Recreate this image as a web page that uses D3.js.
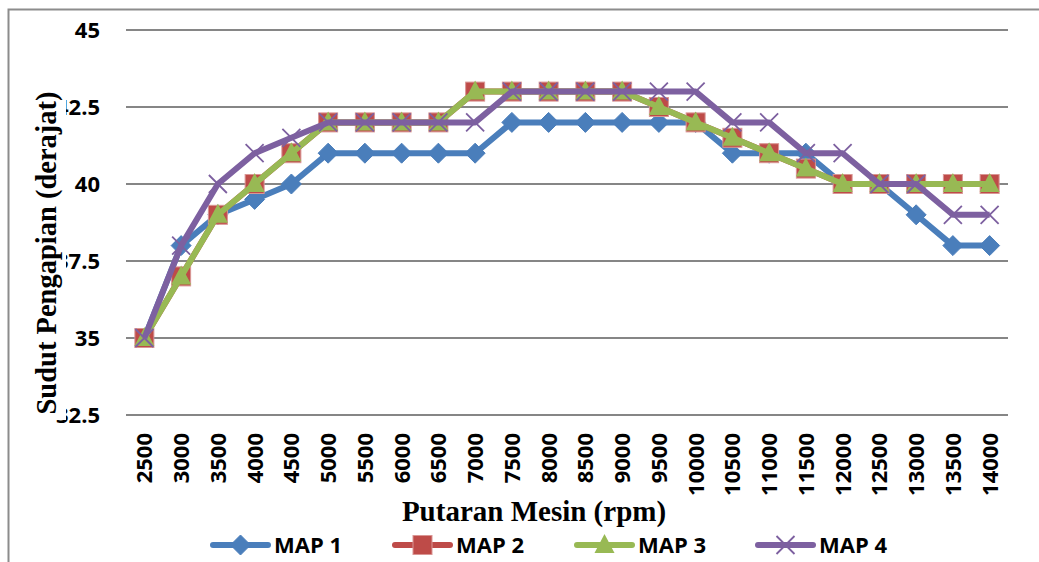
<!DOCTYPE html>
<html>
<head>
<meta charset="utf-8">
<script src="https://cdn.jsdelivr.net/npm/d3@7"></script>
<style>
  body { margin: 0; background: #fff; }
  svg { display: block; }
</style>
</head>
<body>
<div id="chart"></div>
<script>
// rpm categories
var rpm = ["2500","3000","3500","4000","4500","5000","5500","6000","6500","7000","7500","8000",
           "8500","9000","9500","10000","10500","11000","11500","12000","12500","13000","13500","14000"];
// ignition angle per map
var map1 = [35,38,39,39.5,40,41,41,41,41,41,42,42,42,42,42,42,41,41,41,40,40,39,38,38];
var map2 = [35,37,39,40,41,42,42,42,42,43,43,43,43,43,42.5,42,41.5,41,40.5,40,40,40,40,40];
var map3 = [35,37,39,40,41,42,42,42,42,43,43,43,43,43,42.5,42,41.5,41,40.5,40,40,40,40,40];
var map4 = [35,38,40,41,41.5,42,42,42,42,42,43,43,43,43,43,43,42,42,41,41,40,40,39,39];
var seriesNames = ["MAP 1", "MAP 2", "MAP 3", "MAP 4"];
var yTicks = [32.5, 35, 37.5, 40, 42.5, 45];

var W = 1039, H = 562;
var colors = ["#4a7ebb", "#be4b48", "#98b954", "#7d60a0"];
var shapes = ["diamond", "square", "triangle", "cross"];
var allSeries = [map1, map2, map3, map4];

var svg = d3.select("#chart").append("svg")
    .attr("width", W).attr("height", H);

// scales
var x = d3.scalePoint().domain(rpm).range([126, 1008]).padding(0.5);
var y = d3.scaleLinear().domain([32.5, 45]).range([415, 30]);

// frame (left + top)
svg.append("path")
    .attr("d", "M8.5," + H + "V9.5H" + W)
    .attr("fill", "none").attr("stroke", "#8c8c8c").attr("stroke-width", 2);

// gridlines
svg.append("g").selectAll("line").data(yTicks).enter().append("line")
    .attr("x1", 126).attr("x2", 1008)
    .attr("y1", function(d){ return y(d); }).attr("y2", function(d){ return y(d); })
    .attr("stroke", "#868686").attr("stroke-width", 2);

// y tick labels
svg.append("g").selectAll("text").data(yTicks).enter().append("text")
    .attr("x", 100).attr("y", function(d){ return y(d); })
    .attr("dy", "0.36em")
    .attr("text-anchor", "end")
    .style("font", "bold 22px 'Open Sans', sans-serif")
    .text(function(d){ return d; });

// x tick labels (rotated)
svg.append("g").selectAll("text").data(rpm).enter().append("text")
    .attr("transform", function(d){ return "translate(" + x(d) + ",433) rotate(-90)"; })
    .attr("dy", "0.36em")
    .attr("text-anchor", "end")
    .style("font", "bold 22px 'Open Sans', sans-serif")
    .text(function(d){ return d; });

// y axis title with white box (covers first digit of long tick labels, like the original)
svg.append("rect").attr("x", 34).attr("y", 86).attr("width", 32).attr("height", 334).attr("fill", "#fff");
svg.append("text")
    .attr("transform", "translate(56,253) rotate(-90)")
    .attr("text-anchor", "middle")
    .style("font", "bold 28.5px 'Liberation Serif', 'Times New Roman', serif")
    .text("Sudut Pengapian (derajat)");

// x axis title
svg.append("text")
    .attr("x", 534).attr("y", 521)
    .attr("text-anchor", "middle")
    .style("font", "bold 29px 'Liberation Serif', 'Times New Roman', serif")
    .text("Putaran Mesin (rpm)");

// marker drawing
function drawMarker(g, shape, color, cx, cy) {
  if (shape === "diamond") {
    g.append("path").attr("d", "M" + cx + "," + (cy - 10) + "L" + (cx + 10) + "," + cy +
        "L" + cx + "," + (cy + 10) + "L" + (cx - 10) + "," + cy + "Z")
      .attr("fill", color).attr("stroke", "#4a7ebb");
  } else if (shape === "square") {
    g.append("rect").attr("x", cx - 9.5).attr("y", cy - 9.5).attr("width", 19).attr("height", 19)
      .attr("fill", color).attr("stroke", "#d99694").attr("stroke-width", 1);
  } else if (shape === "triangle") {
    g.append("path").attr("d", "M" + cx + "," + (cy - 11) + "L" + (cx + 10) + "," + (cy + 8) +
        "L" + (cx - 10) + "," + (cy + 8) + "Z")
      .attr("fill", color);
  } else {
    g.append("path").attr("d", "M" + (cx - 9) + "," + (cy - 9) + "L" + (cx + 9) + "," + (cy + 9) +
        "M" + (cx + 9) + "," + (cy - 9) + "L" + (cx - 9) + "," + (cy + 9))
      .attr("stroke", color).attr("stroke-width", 1.8).attr("fill", "none");
  }
}

var line = d3.line()
    .x(function(d, i){ return x(rpm[i]); })
    .y(function(d){ return y(d); });

allSeries.forEach(function(s, k){
  var g = svg.append("g");
  g.append("path").datum(s)
    .attr("d", line)
    .attr("fill", "none")
    .attr("stroke", colors[k])
    .attr("stroke-width", 6)
    .attr("stroke-linejoin", "round");
  s.forEach(function(v, i){
    drawMarker(g, shapes[k], colors[k], x(rpm[i]), y(v));
  });
});

// legend
var legX = [213, 395, 577, 758];
seriesNames.forEach(function(name, k){
  var g = svg.append("g");
  g.append("line").attr("x1", legX[k]).attr("x2", legX[k] + 55)
    .attr("y1", 545).attr("y2", 545)
    .attr("stroke", colors[k]).attr("stroke-width", 6).attr("stroke-linecap", "round");
  drawMarker(g, shapes[k], colors[k], legX[k] + 27.5, 545);
  g.append("text").attr("x", legX[k] + 61).attr("y", 545).attr("dy", "0.36em")
    .style("font", "bold 22px 'Open Sans', sans-serif")
    .text(name);
});
</script>
</body>
</html>
